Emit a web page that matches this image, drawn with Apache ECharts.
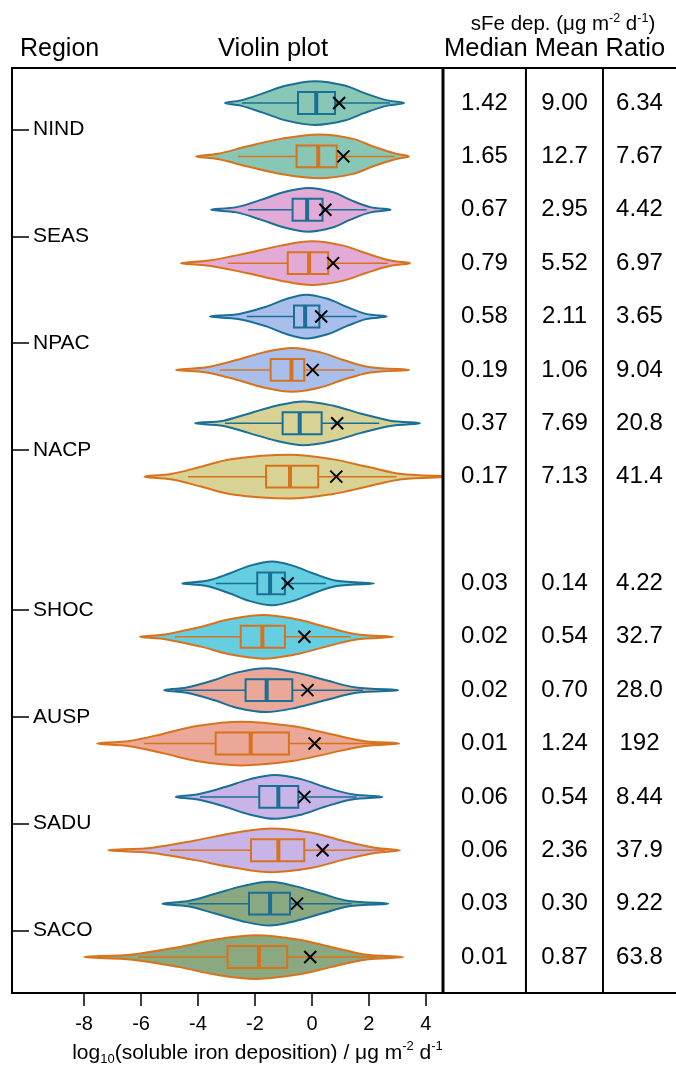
<!DOCTYPE html>
<html><head><meta charset="utf-8">
<script src="https://cdn.jsdelivr.net/npm/echarts@6/dist/echarts.min.js"></script>
<style>html,body{margin:0;padding:0;background:#fff}#c{width:676px;height:1066px}</style>
</head><body><div id="c"></div>
<script>
// ---------------- data ----------------
const regions = ['NIND', 'SEAS', 'NPAC', 'NACP', 'SHOC', 'AUSP', 'SADU', 'SACO'];
const regionPos = [0.5, 2.5, 4.5, 6.5, 9.5, 11.5, 13.5, 15.5];
const rowPos = [0, 1, 2, 3, 4, 5, 6, 7, 9, 10, 11, 12, 13, 14, 15, 16];

const medianTxt = ['1.42', '1.65', '0.67', '0.79', '0.58', '0.19', '0.37', '0.17', '0.03', '0.02', '0.02', '0.01', '0.06', '0.06', '0.03', '0.01'];
const meanTxt = ['9.00', '12.7', '2.95', '5.52', '2.11', '1.06', '7.69', '7.13', '0.14', '0.54', '0.70', '1.24', '0.54', '2.36', '0.30', '0.87'];
const ratioTxt = ['6.34', '7.67', '4.42', '6.97', '3.65', '9.04', '20.8', '41.4', '4.22', '32.7', '28.0', '192', '8.44', '37.9', '9.22', '63.8'];

// log10 values
const whiskerLo = [-2.46, -2.6, -2.24, -2.95, -2.29, -3.23, -3.05, -4.35, -3.37, -4.81, -4.81, -5.9, -3.93, -4.98, -4.34, -6.09];
const whiskerHi = [2.74, 2.9, 1.92, 2.67, 1.57, 1.49, 2.36, 2.97, 0.49, 1.36, 1.79, 2.62, 1.57, 2.56, 1.39, 2.27];
const q1 = [-0.49, -0.54, -0.68, -0.85, -0.63, -1.45, -1.03, -1.61, -1.92, -2.5, -2.33, -3.38, -1.85, -2.14, -2.21, -2.96];
const q3 = [0.81, 0.87, 0.37, 0.57, 0.26, -0.27, 0.34, 0.22, -0.95, -0.95, -0.69, -0.81, -0.48, -0.27, -0.77, -0.87];
const medianLog = [0.15, 0.22, -0.17, -0.10, -0.24, -0.72, -0.43, -0.77, -1.47, -1.74, -1.59, -2.15, -1.18, -1.18, -1.47, -1.86];

// violin outline knots (log10 x) at relative half-widths violinH
const violinH = [0, 0.12, 0.45, 0.8, 1, 0.8, 0.45, 0.12, 0];
const violinX = [
  [-3.05, -2.5, -1.7, -0.9, 0.1, 1.15, 1.85, 2.65, 3.23],
  [-4.07, -3.3, -2.3, -1.1, 0.25, 1.45, 2.15, 2.95, 3.4],
  [-3.54, -2.65, -1.8, -1.0, -0.13, 0.75, 1.35, 2.05, 2.76],
  [-4.6, -3.6, -2.3, -1.1, 0.0, 1.1, 1.9, 2.75, 3.44],
  [-3.58, -2.55, -1.6, -0.9, -0.2, 0.57, 1.2, 1.9, 2.62],
  [-4.77, -3.7, -2.65, -1.7, -0.7, 0.3, 1.1, 2.05, 3.41],
  [-4.1, -3.1, -2.2, -1.25, -0.3, 0.75, 1.7, 2.75, 3.79],
  [-5.88, -4.95, -3.9, -2.85, -0.77, 0.7, 1.95, 3.15, 4.8],
  [-4.55, -3.7, -2.9, -2.2, -1.4, -0.65, 0.05, 0.87, 2.18],
  [-6.04, -5.1, -3.9, -2.9, -1.7, -0.55, 0.5, 1.55, 2.85],
  [-5.19, -4.4, -3.45, -2.65, -1.6, -0.55, 0.5, 1.55, 3.03],
  [-7.54, -6.4, -5.2, -4.05, -2.5, -0.7, 0.6, 1.8, 3.06],
  [-4.78, -4.0, -3.05, -2.2, -1.3, -0.35, 0.45, 1.4, 2.47],
  [-7.15, -5.6, -4.1, -2.7, -1.4, 0.0, 1.05, 2.2, 3.09],
  [-5.25, -4.35, -3.4, -2.45, -1.5, -0.6, 0.35, 1.3, 2.68],
  [-7.99, -6.3, -4.7, -3.4, -1.95, -0.5, 0.7, 1.85, 3.2]
];
const xTicks = [-8, -6, -4, -2, 0, 2, 4];

// ---------------- style ----------------
const FONT = '"Liberation Sans", Arial, Helvetica, sans-serif';
const fills = ['#88c7b5', '#e2aad7', '#a7bfea', '#d9d295', '#66cee1', '#eba898', '#c9b4e7', '#8aa980'];
const BLUE = '#1a6f96', ORANGE = '#d8731b';
const colEdges = [0, 0.350, 0.675];
const colWidths = [3, 2, 2];
const colCenters = [0.175, 0.513, 0.829];
const HALF = 0.41, BOXH = 0.205;

const rows = rowPos.map((p, i) => [i, p]);

function renderViolin(params, api) {
  const i = api.value(0), p = api.value(1);
  const xs = violinX[i];
  const color = i % 2 === 0 ? BLUE : ORANGE;
  const fill = fills[Math.floor(i / 2)];
  const pts = xs.map((x, k) => api.coord([x, p - violinH[k] * HALF]));
  for (let k = xs.length - 2; k >= 1; k--) pts.push(api.coord([xs[k], p + violinH[k] * HALF]));
  const cy = api.coord([0, p])[1];
  const bh = api.size([0, BOXH])[1];
  const X = v => api.coord([v, p])[0];
  const xm = X(Math.log10(parseFloat(meanTxt[i])));
  const s = 6;
  return {
    type: 'group',
    children: [
      { type: 'polygon', shape: { points: pts, smooth: 0.35 }, style: { fill: fill, stroke: color, lineWidth: 2 } },
      { type: 'line', shape: { x1: X(whiskerLo[i]), y1: cy, x2: X(whiskerHi[i]), y2: cy }, style: { stroke: color, lineWidth: 1.5 } },
      { type: 'rect', shape: { x: X(q1[i]), y: cy - bh, width: X(q3[i]) - X(q1[i]), height: 2 * bh }, style: { fill: fill, stroke: color, lineWidth: 2 } },
      { type: 'line', shape: { x1: X(medianLog[i]), y1: cy - bh, x2: X(medianLog[i]), y2: cy + bh }, style: { stroke: color, lineWidth: 4 } },
      { type: 'line', shape: { x1: xm - s, y1: cy - s, x2: xm + s, y2: cy + s }, style: { stroke: '#000', lineWidth: 2 } },
      { type: 'line', shape: { x1: xm - s, y1: cy + s, x2: xm + s, y2: cy - s }, style: { stroke: '#000', lineWidth: 2 } }
    ]
  };
}

function renderTable(params, api) {
  const i = api.value(0), p = api.value(1);
  const txt = [medianTxt[i], meanTxt[i], ratioTxt[i]];
  return {
    type: 'group',
    children: txt.map((t, c) => {
      const pt = api.coord([colCenters[c], p]);
      return { type: 'text', x: pt[0], y: pt[1], style: { text: t, fill: '#000', font: '24px ' + FONT, align: 'center', verticalAlign: 'middle' } };
    })
  };
}

function renderSep(params, api) {
  const c = api.value(0);
  const cs = params.coordSys;
  const x = api.coord([colEdges[c], 0])[0];
  return { type: 'line', shape: { x1: x, y1: cs.y, x2: x, y2: cs.y + cs.height }, style: { stroke: '#000', lineWidth: colWidths[c] } };
}

const chart = echarts.init(document.getElementById('c'), null, { renderer: 'canvas' });
chart.setOption({
  animation: false,
  backgroundColor: '#fff',
  textStyle: { fontFamily: FONT },
  grid: [
    { left: 12, right: 233, top: 68, bottom: 73, show: true, borderColor: '#000', borderWidth: 2, backgroundColor: 'transparent', containLabel: false, outerBoundsMode: 'none' },
    { left: 443, right: -4, top: 68, bottom: 73, show: true, borderColor: '#000', borderWidth: 2, backgroundColor: 'transparent', containLabel: false, outerBoundsMode: 'none' }
  ],
  xAxis: [
    {
      type: 'value', gridIndex: 0, min: -10.53, max: 4.6, position: 'bottom',
      axisLine: { show: false, onZero: false },
      splitLine: { show: false },
      axisTick: { show: true, inside: false, length: 13, customValues: xTicks, lineStyle: { color: '#000', width: 1.5 } },
      axisLabel: { show: true, customValues: xTicks, margin: 21, color: '#000', fontSize: 20, fontFamily: FONT },
      name: '{a|log}{sub|10}{a|(soluble iron deposition) / μg m}{sup|-2}{a| d}{sup|-1}',
      nameLocation: 'middle', nameGap: 47,
      nameTextStyle: {
        padding: [0, 0, 0, 60],
        rich: {
          a: { fontSize: 21, color: '#000', fontFamily: FONT, lineHeight: 26 },
          sub: { fontSize: 13, color: '#000', fontFamily: FONT, verticalAlign: 'bottom', lineHeight: 26 },
          sup: { fontSize: 13, color: '#000', fontFamily: FONT, verticalAlign: 'top', lineHeight: 26 }
        }
      }
    },
    { type: 'value', gridIndex: 1, min: 0, max: 1, show: false }
  ],
  yAxis: [
    {
      type: 'value', gridIndex: 0, inverse: true, min: -0.656, max: 16.674, position: 'left',
      axisLine: { show: false, onZero: false }, splitLine: { show: false },
      axisTick: { show: true, inside: true, length: 17, customValues: regionPos, lineStyle: { color: '#000', width: 1.5 } },
      axisLabel: {
        show: true, inside: true, margin: 21, customValues: regionPos, color: '#000', fontSize: 21, fontFamily: FONT,
        formatter: v => regions[regionPos.indexOf(v)] || ''
      }
    },
    { type: 'value', gridIndex: 1, inverse: true, min: -0.656, max: 16.674, show: false }
  ],
  series: [
    { type: 'custom', xAxisIndex: 0, yAxisIndex: 0, clip: true, renderItem: renderViolin, data: rows, z: 3 },
    { type: 'custom', xAxisIndex: 1, yAxisIndex: 1, renderItem: renderTable, data: rows, z: 3 },
    { type: 'custom', xAxisIndex: 1, yAxisIndex: 1, clip: false, renderItem: renderSep, data: [[0], [1], [2]], z: 4 }
  ],
  graphic: [
    { type: 'text', x: 20, y: 49, style: { text: 'Region', font: '25px ' + FONT, fill: '#000', align: 'left', verticalAlign: 'middle' } },
    { type: 'text', x: 273, y: 49, style: { text: 'Violin plot', font: '25.5px ' + FONT, fill: '#000', align: 'center', verticalAlign: 'middle' } },
    { type: 'text', x: 444, y: 49, style: { text: 'Median Mean Ratio', font: '25.5px ' + FONT, fill: '#000', align: 'left', verticalAlign: 'middle' } },
    {
      type: 'text', x: 563, y: 24,
      style: {
        text: '{a|sFe dep. (μg m}{sup|-2}{a| d}{sup|-1}{a|)}', align: 'center', verticalAlign: 'middle',
        rich: {
          a: { fontSize: 20.5, fill: '#000', fontFamily: FONT, lineHeight: 24 },
          sup: { fontSize: 12.5, fill: '#000', fontFamily: FONT, verticalAlign: 'top', lineHeight: 24 }
        }
      }
    }
  ]
});
</script></body></html>
